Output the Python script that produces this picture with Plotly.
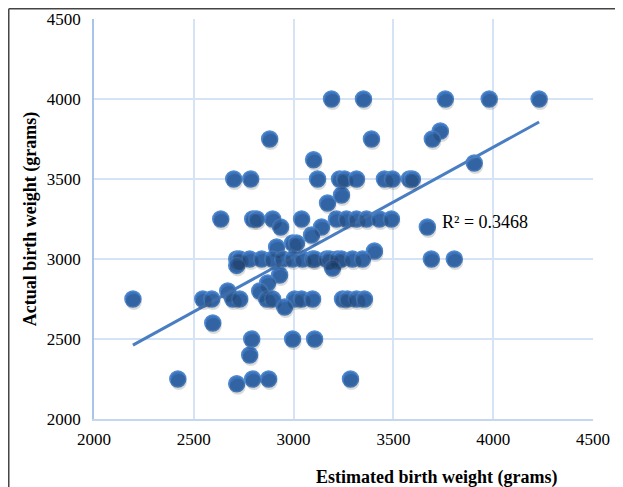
import plotly.graph_objects as go

# Estimated (x) and actual (y) birth weights, grouped by actual-weight rows
rows = {
    4000: [3190, 3350, 3760, 3980, 4230],
    3800: [3735],
    3750: [2880, 3390, 3695],
    3620: [3100],
    3600: [3905],
    3500: [2700, 2785, 3120, 3230, 3255, 3315, 3455, 3495, 3580, 3595],
    3400: [3240],
    3350: [3170],
    3250: [2635, 2795, 2815, 2895, 3040, 3215, 3265, 3315, 3365, 3430, 3490],
    3200: [2935, 3140, 3670],
    3150: [3090],
    3100: [2995, 3015],
    3075: [2915],
    3050: [3405],
    3000: [2715, 2730, 2780, 2840, 2895, 2945, 2995, 3045, 3095, 3105, 3165,
           3180, 3220, 3240, 3295, 3345, 3690, 3805],
    2960: [2715],
    2944: [3195],
    2900: [2930],
    2850: [2870],
    2800: [2670, 2830],
    2750: [2195, 2545, 2590, 2695, 2730, 2865, 2895, 3005, 3040, 3095, 3245,
           3270, 3315, 3355],
    2700: [2955],
    2600: [2595],
    2500: [2790, 2995, 3105],
    2400: [2780],
    2250: [2420, 2795, 2875, 3285],
    2220: [2715],
}
estimated = [x for yv, xs in rows.items() for x in xs]
actual = [yv for yv, xs in rows.items() for x in xs]

# Linear trendline
trend_x = [2195, 4230]
trend_y = [2462, 3856]
r2_text = "R² = 0.3468"

x_ticks = [2000, 2500, 3000, 3500, 4000, 4500]
y_ticks = [2000, 2500, 3000, 3500, 4000, 4500]
x_range = [2000, 4500]
y_range = [2000, 4500]

fig = go.Figure()
# soft drop shadow: same data on overlay axes whose ranges are nudged a few px
fig.add_trace(go.Scatter(
    x=estimated, y=actual, mode="markers", xaxis="x2", yaxis="y2",
    marker=dict(size=16, color="rgba(0,0,0,0.14)", line=dict(width=0)),
    showlegend=False, hoverinfo="skip"))
fig.add_trace(go.Scatter(
    x=estimated, y=actual, mode="markers",
    marker=dict(size=16, color="#3B74BE",
                line=dict(color="#5089CE", width=1.5)),
    showlegend=False, hoverinfo="x+y"))
fig.add_trace(go.Scatter(
    x=trend_x, y=trend_y, mode="lines",
    line=dict(color="#4A7EC2", width=3),
    showlegend=False, hoverinfo="skip"))

fig.add_annotation(x=3735, y=3231, xref="x", yref="y", text=r2_text,
                   showarrow=False, xanchor="left", yanchor="middle",
                   font=dict(family="Liberation Serif", size=18, color="#000000"))

fig.add_annotation(x=0.687, y=-0.145, xref="paper", yref="paper",
                   text="<b>Estimated birth weight (grams)</b>", showarrow=False,
                   xanchor="center", yanchor="middle",
                   font=dict(family="Liberation Serif", size=18, color="#000000"))

fig.add_annotation(x=-0.128, y=0.5, xref="paper", yref="paper",
                   text="<b>Actual birth weight (grams)</b>", showarrow=False,
                   textangle=-90, xanchor="center", yanchor="middle",
                   font=dict(family="Liberation Serif", size=18, color="#000000"))

# outer frame lines (top and left)
fig.add_shape(type="line", xref="paper", yref="paper",
              x0=-0.1708, x1=1.1, y0=1.0256, y1=1.0256,
              line=dict(color="#444444", width=1.5))
fig.add_shape(type="line", xref="paper", yref="paper",
              x0=-0.1708, x1=-0.1708, y0=1.0256, y1=-0.2,
              line=dict(color="#444444", width=1.5))

shift_x = (x_range[1] - x_range[0]) / 499 * 1
shift_y = (y_range[1] - y_range[0]) / 400 * 3

# page body has an 8px margin, so the figure is sized to the visible area
fig.update_layout(
    width=615, height=479,
    margin=dict(l=86, r=30, t=11, b=68, autoexpand=False),
    paper_bgcolor="white", plot_bgcolor="white",
    font=dict(family="Liberation Serif", size=17, color="#000000"),
    xaxis=dict(range=x_range, tickvals=x_ticks,
               ticktext=[str(v) for v in x_ticks], automargin=False,
               showgrid=True, gridcolor="#D6E3F4", gridwidth=1.5,
               zeroline=False, showline=True, linecolor="#C5D7EF", linewidth=1.5,
               ticks="", ticklabelstandoff=4, tickfont=dict(size=17)),
    yaxis=dict(range=y_range, tickvals=y_ticks,
               ticktext=[str(v) for v in y_ticks], automargin=False,
               showgrid=True, gridcolor="#D6E3F4", gridwidth=1.5,
               zeroline=False, showline=True, linecolor="#A9C4EA", linewidth=1.5,
               ticks="", ticklabelstandoff=8, tickfont=dict(size=17)),
    xaxis2=dict(range=[x_range[0] - shift_x, x_range[1] - shift_x],
                overlaying="x", visible=False, automargin=False),
    yaxis2=dict(range=[y_range[0] + shift_y, y_range[1] + shift_y],
                overlaying="y", visible=False, automargin=False),
)

fig.write_html("out.html")
